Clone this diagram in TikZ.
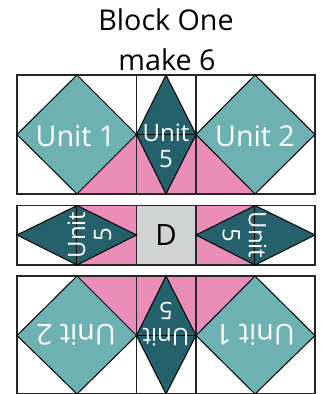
\documentclass[tikz,border=0pt]{standalone}
\usepackage{fontspec}
\setmainfont{Open Sans}
\definecolor{tealL}{HTML}{6EB1B2}
\definecolor{tealD}{HTML}{25616B}
\definecolor{pinkT}{HTML}{EB8DB9}
\definecolor{greyD}{HTML}{D1D3D2}
\begin{document}
\begin{tikzpicture}[x=0.75pt, y=-0.75pt,
    lab/.style={text=white, font=\fontsize{21.5}{24}\selectfont, inner sep=0pt},
    labs/.style={text=white, align=center, font=\fontsize{18}{19.5}\selectfont, inner sep=0pt},
    pinktri/.style={fill=pinkT},
    lt/.style={fill=tealL, draw=black, line width=0.75pt, line join=miter},
    dk/.style={fill=tealD, draw=black, line width=0.75pt, line join=miter},
    frame/.style={draw=black!85, line width=1pt},
    ttl/.style={font=\fontsize{21.5}{24}\selectfont, inner sep=0pt}]
  \useasboundingbox (0,0) rectangle (321,394);
  \node[ttl] (title) at (166,20) {Block One};
  \node[ttl] (make) at (167,60) {make 6};
  % first row
  \fill[pinktri] (77,194) -- (136.5,134.5) -- (196,134.5) -- (255,194) -- cycle;
  \draw[frame] (17,75) rectangle (315,194);
  \draw[frame] (136.5,75) -- (136.5,194) (196,75) -- (196,194);
  \draw[lt] (17,134.5) -- (77,75) -- (136.5,134.5) -- (77,194) -- cycle;
  \draw[lt] (196,134.5) -- (255,75) -- (315,134.5) -- (255,194) -- cycle;
  \draw[dk] (136.5,134.5) -- (166,75) -- (196,134.5) -- (166,194) -- cycle;
  \draw[line width=0.75pt] (136.5,134.5) -- (196,134.5);
  \node[lab] (u1) at (75.5,136) {Unit 1};
  \node[lab] (u2) at (255,136) {Unit 2};
  \node[labs] (u5a) at (166,145.5) {Unit\\5};
  % second row
  \fill[pinktri] (77,205.5) rectangle (136.5,265);
  \fill[pinktri] (196,205.5) rectangle (255,265);
  \fill[greyD] (136.5,205.5) rectangle (196,265);
  \draw[frame] (17,205.5) rectangle (315,265);
  \draw[frame] (136.5,205.5) -- (136.5,265) (196,205.5) -- (196,265);
  \draw[dk] (17,235) -- (77,205.5) -- (136.5,235) -- (77,265) -- cycle;
  \draw[dk] (196,235) -- (255,205.5) -- (315,235) -- (255,265) -- cycle;
  \draw[line width=0.75pt] (77,205.5) -- (77,265) (255,205.5) -- (255,265);
  \node[labs, rotate=90] (u5b) at (89.5,235) {Unit\\5};
  \node[labs, rotate=-90] (u5c) at (244.5,235) {Unit\\5};
  \node[font=\fontsize{22}{24}\selectfont, inner sep=0pt] (d) at (166,235.5) {D};
  % third row
  \fill[pinktri] (77,276) -- (136.5,335.5) -- (196,335.5) -- (255,276) -- cycle;
  \draw[frame] (17,276) rectangle (315,394);
  \draw[frame] (136.5,276) -- (136.5,394) (196,276) -- (196,394);
  \draw[lt] (17,335.5) -- (77,276) -- (136.5,335.5) -- (77,394) -- cycle;
  \draw[lt] (196,335.5) -- (255,276) -- (315,335.5) -- (255,394) -- cycle;
  \draw[dk] (136.5,335.5) -- (166,276) -- (196,335.5) -- (166,394) -- cycle;
  \draw[line width=0.75pt] (136.5,335.5) -- (196,335.5);
  \node[lab, rotate=180] (u2b) at (76,334.5) {Unit 2};
  \node[lab, rotate=180] (u1b) at (255,334.5) {Unit 1};
  \node[labs, rotate=180] (u5d) at (166,324.5) {Unit\\5};
\end{tikzpicture}
\end{document}
